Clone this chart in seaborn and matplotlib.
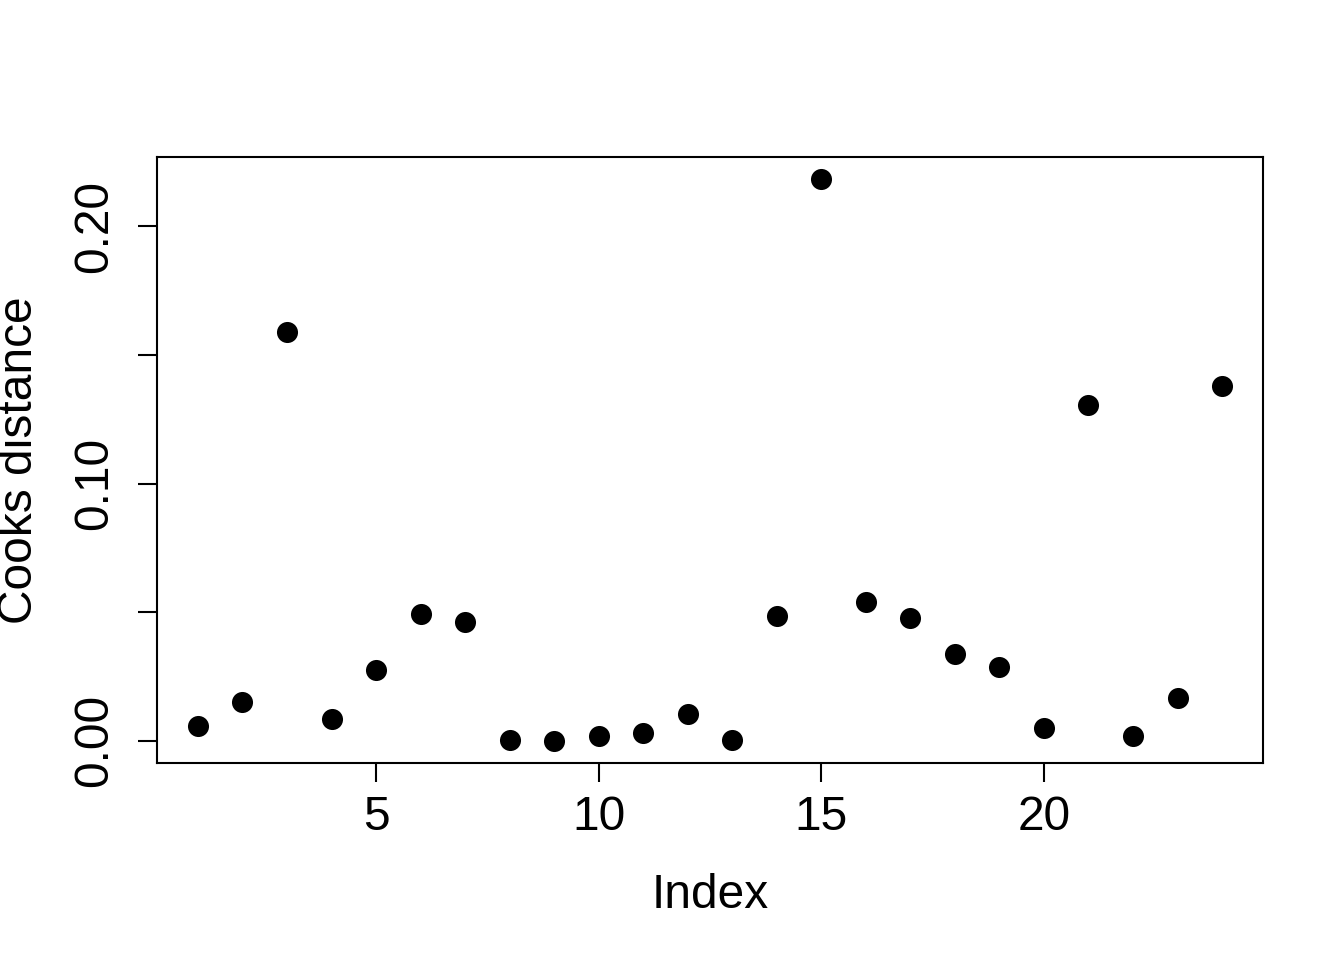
import matplotlib
matplotlib.use("Agg")
import matplotlib.pyplot as plt
import seaborn as sns
import pandas as pd
import numpy as np

index = list(range(1, 25))
cooks = [0.0058, 0.0151, 0.1588, 0.0085, 0.0276, 0.0493, 0.0462, 0.0004,
         0.0000, 0.0016, 0.0031, 0.0105, 0.0004, 0.0485, 0.2183, 0.0540,
         0.0478, 0.0338, 0.0287, 0.0047, 0.1305, 0.0016, 0.0167, 0.1379]
xticks = [5, 10, 15, 20]
yticks = [0.00, 0.05, 0.10, 0.15, 0.20]
ytick_labels = ["0.00", "", "0.10", "", "0.20"]

df = pd.DataFrame({"Index": index, "Cooks distance": cooks})

sns.set_style("ticks")
plt.rcParams['font.family'] = ['Liberation Sans', 'DejaVu Sans']

fig = plt.figure(figsize=(13.44, 9.6), dpi=100)
ax = fig.add_axes([157/1344, 1 - 763/960, (1263-157)/1344, (763-157)/960])

sns.scatterplot(data=df, x="Index", y="Cooks distance", ax=ax,
                color="black", s=230, linewidth=0, legend=False)

xr = 23 * 0.04
ax.set_xlim(1 - xr, 24 + xr)
yr = (max(cooks) - min(cooks)) * 0.04
ax.set_ylim(min(cooks) - yr, max(cooks) + yr)

ax.set_xticks(xticks)
ax.set_xticklabels([str(t) for t in xticks])
ax.set_yticks(yticks)
ax.set_yticklabels(ytick_labels, rotation=90, va="center")

fs = 34.5
ax.tick_params(axis="both", direction="out", length=14, width=1.5,
               color="black", labelsize=fs, labelcolor="black")
ax.tick_params(axis="x", pad=9)
ax.tick_params(axis="y", pad=15)
for sp in ax.spines.values():
    sp.set_visible(True)
    sp.set_linewidth(1.5)
    sp.set_color("black")

ax.set_xlabel("Index", fontsize=fs, color="black")
ax.set_ylabel("Cooks distance", fontsize=fs, color="black")
ax.xaxis.set_label_coords(0.5, (763 - 895) / 606)
ax.xaxis.label.set_va("center")
ax.yaxis.set_label_coords((20 - 157) / 1106, 0.5)
ax.yaxis.label.set_va("center")

fig.savefig("out.png", dpi=100, facecolor="white")
